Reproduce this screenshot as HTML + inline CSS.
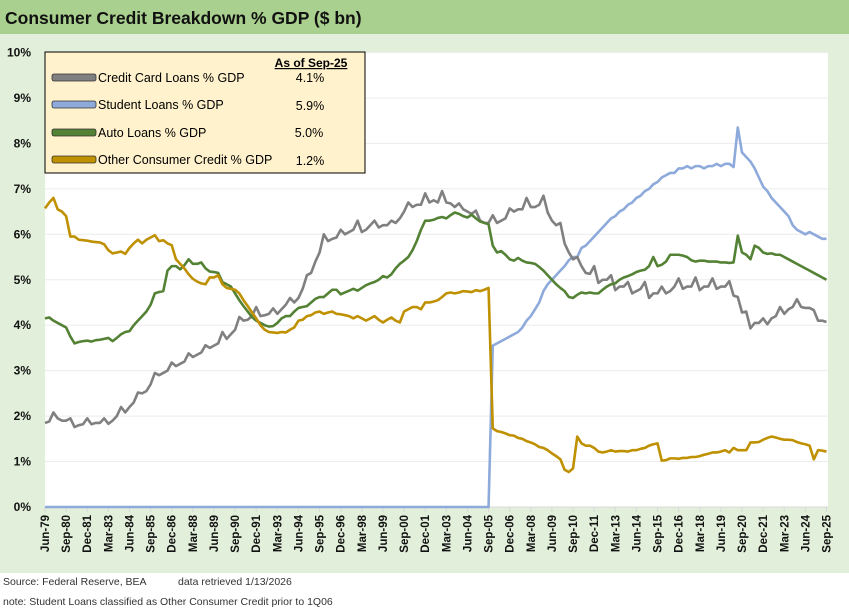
<!DOCTYPE html>
<html><head><meta charset="utf-8"><style>
html,body{margin:0;padding:0;width:849px;height:610px;overflow:hidden;background:#fff;font-family:"Liberation Sans",sans-serif}
</style></head><body>
<svg id="chart" width="849" height="610" xmlns="http://www.w3.org/2000/svg" font-family="Liberation Sans, sans-serif">
<rect x="0" y="0" width="849" height="34" fill="#a9d08e"/>
<text x="5" y="24" font-size="17.5" font-weight="bold" fill="#111">Consumer Credit Breakdown % GDP ($ bn)</text>
<rect x="0" y="34" width="849" height="539" fill="#e2efda"/>
<rect x="45" y="53" width="783" height="454" fill="#fff"/>
<g id="grid"></g>
<g id="yaxis"></g>
<g id="xaxis"></g>
<g id="series"></g>
<g>
<rect x="45" y="52" width="320" height="121" fill="#fff2cc" stroke="#000" stroke-width="1"/>
<text x="311" y="67" font-size="12" font-weight="bold" text-anchor="middle" text-decoration="underline">As of Sep-25</text>
<g><rect x="52" y="74" width="44" height="7" rx="2" fill="#808080" stroke="#333" stroke-width="0.8"/><text x="98" y="82" font-size="12.5">Credit Card Loans % GDP</text><text x="310" y="82" font-size="12.5" text-anchor="middle">4.1%</text></g>
<g><rect x="52" y="101" width="44" height="7" rx="2" fill="#8eaadb" stroke="#333" stroke-width="0.8"/><text x="98" y="109" font-size="12.5">Student Loans % GDP</text><text x="310" y="110" font-size="12.5" text-anchor="middle">5.9%</text></g>
<g><rect x="52" y="129" width="44" height="7" rx="2" fill="#548235" stroke="#333" stroke-width="0.8"/><text x="98" y="137" font-size="12.5">Auto Loans % GDP</text><text x="309" y="137" font-size="12.5" text-anchor="middle">5.0%</text></g>
<g><rect x="52" y="156" width="44" height="7" rx="2" fill="#bf9000" stroke="#333" stroke-width="0.8"/><text x="98" y="164" font-size="12.5">Other Consumer Credit % GDP</text><text x="310" y="165" font-size="12.5" text-anchor="middle">1.2%</text></g>
</g>
<text x="3" y="585" font-size="10.5" fill="#333">Source: Federal Reserve, BEA</text>
<text x="178" y="585" font-size="10.5" fill="#333">data retrieved 1/13/2026</text>
<text x="3" y="605" font-size="10.5" fill="#333">note: Student Loans classified as Other Consumer Credit prior to 1Q06</text>
</svg>
<script>
const yTicks = [0,1,2,3,4,5,6,7,8,9,10];
const xTickLabels = ["Jun-79","Sep-80","Dec-81","Mar-83","Jun-84","Sep-85","Dec-86","Mar-88","Jun-89","Sep-90","Dec-91","Mar-93","Jun-94","Sep-95","Dec-96","Mar-98","Jun-99","Sep-00","Dec-01","Mar-03","Jun-04","Sep-05","Dec-06","Mar-08","Jun-09","Sep-10","Dec-11","Mar-13","Jun-14","Sep-15","Dec-16","Mar-18","Jun-19","Sep-20","Dec-21","Mar-23","Jun-24","Sep-25"];
const creditCard = [1.85,1.88,2.08,
1.95,1.9,1.9,1.95, 1.76,1.8,1.82,1.95, 1.82,1.85,1.85,1.95, 1.83,1.9,2.0,2.2, 2.08,2.2,2.3,2.52,
2.5,2.55,2.7,2.95, 2.9,2.95,3.0,3.18, 3.1,3.15,3.2,3.38, 3.3,3.35,3.4,3.56, 3.5,3.55,3.6,3.85,
3.7,3.8,3.9,4.18, 4.1,4.12,4.2,4.4, 4.2,4.22,4.25,4.37, 4.25,4.35,4.45,4.6, 4.5,4.6,4.8,5.1,
5.15,5.4,5.6,6.0, 5.85,5.9,5.93,6.1, 6.0,6.05,6.1,6.3, 6.05,6.1,6.2,6.3, 6.15,6.2,6.2,6.3,
6.25,6.35,6.5,6.7, 6.6,6.65,6.65,6.9, 6.7,6.75,6.7,6.95, 6.7,6.68,6.6,6.68, 6.55,6.5,6.45,6.52,
6.3,6.25,6.25,6.42, 6.25,6.3,6.35,6.57, 6.5,6.55,6.55,6.8, 6.6,6.6,6.65,6.85, 6.48,6.3,6.2,6.25,
5.8,5.6,5.45,5.5, 5.3,5.15,5.13,5.3, 4.93,5.0,5.0,5.1, 4.77,4.85,4.85,4.95, 4.7,4.75,4.8,4.95,
4.6,4.7,4.7,4.85, 4.7,4.75,4.85,5.03, 4.8,4.85,4.85,5.05, 4.77,4.85,4.85,5.03, 4.8,4.85,4.85,4.97,
4.65,4.62,4.28,4.3, 3.93,4.05,4.05,4.15, 4.02,4.15,4.2,4.4, 4.25,4.35,4.4,4.57, 4.4,4.38,4.38,4.33,
4.1,4.1,4.07];
const studentZeroCount = 106;
const student = [3.55,
3.6,3.65,3.7,3.75, 3.8,3.85,3.95,4.1, 4.2,4.35,4.5,4.75, 4.9,5.0,5.1,5.2, 5.3,5.43,5.5,5.5,
5.7,5.75,5.85,5.95, 6.05,6.15,6.25,6.35, 6.4,6.5,6.55,6.65, 6.7,6.8,6.85,6.95, 7.0,7.1,7.15,7.25,
7.3,7.35,7.35,7.45, 7.45,7.5,7.45,7.5, 7.5,7.45,7.5,7.5, 7.55,7.5,7.55,7.55, 7.48,8.35,7.8,7.7,
7.6,7.45,7.25,7.05, 6.95,6.8,6.7,6.6, 6.5,6.4,6.2,6.1, 6.05,6.0,6.05,6.0, 5.95,5.9,5.9];
const auto = [4.15,4.17,4.1,4.05,4.0,3.95,3.75,3.6,3.63,3.65,3.66,3.64,3.67,3.68,3.7,3.72,3.65,3.72,3.8,3.85,
3.87,4.0,4.1,4.2,4.3,4.45,4.7,4.73,4.75,5.2,5.3,5.3,5.23,5.32,5.45,5.35,5.35,5.38,5.25,5.18,
5.17,5.15,4.95,4.9,4.85,4.7,4.55,4.42,4.3,4.18,4.1,4.05,4.0,3.97,3.98,4.05,4.15,4.2,4.2,4.3,
4.38,4.4,4.42,4.5,4.58,4.62,4.62,4.7,4.78,4.78,4.68,4.72,4.76,4.8,4.76,4.82,4.88,4.92,4.95,5.0,
5.08,5.05,5.12,5.25,5.35,5.42,5.5,5.65,5.85,6.1,6.3,6.3,6.32,6.36,6.38,6.35,6.42,6.48,6.45,6.4,
6.37,6.43,6.35,6.28,6.25,6.22,5.75,5.6,5.63,5.55,5.45,5.42,5.48,5.42,5.38,5.37,5.35,5.28,5.2,5.1,
5.0,4.9,4.82,4.75,4.62,4.6,4.67,4.72,4.7,4.72,4.7,4.7,4.78,4.85,4.9,4.92,5.0,5.05,5.08,5.12,
5.17,5.2,5.22,5.3,5.5,5.3,5.33,5.4,5.55,5.55,5.55,5.53,5.5,5.43,5.4,5.42,5.42,5.4,5.4,5.4,
5.38,5.38,5.37,5.38,5.97,5.6,5.55,5.45,5.75,5.7,5.6,5.57,5.58,5.55,5.55,5.5,5.45,5.4,5.35,5.3,
5.25,5.2,5.15,5.1,5.05,5.0];
const other = [6.57,6.7,6.8,6.55,6.5,6.4,5.95,5.95,5.88,5.87,5.86,5.84,5.83,5.82,5.78,5.65,5.58,5.6,5.62,5.57,
5.7,5.8,5.88,5.8,5.88,5.93,5.98,5.85,5.87,5.8,5.76,5.45,5.35,5.25,5.12,5.02,4.96,4.92,4.9,5.05,
5.05,5.1,4.9,4.82,4.8,4.78,4.7,4.55,4.42,4.28,4.15,4.0,3.9,3.85,3.84,3.83,3.85,3.84,3.9,3.95,
4.1,4.12,4.2,4.22,4.28,4.3,4.25,4.28,4.3,4.25,4.24,4.22,4.2,4.15,4.2,4.15,4.1,4.15,4.2,4.12,
4.06,4.12,4.17,4.1,4.06,4.3,4.35,4.4,4.4,4.35,4.5,4.5,4.52,4.55,4.62,4.7,4.72,4.7,4.72,4.75,
4.74,4.73,4.77,4.75,4.78,4.82,1.73,1.67,1.65,1.62,1.58,1.57,1.52,1.5,1.45,1.42,1.38,1.32,1.3,1.25,
1.18,1.12,1.05,0.82,0.77,0.85,1.55,1.4,1.35,1.35,1.3,1.22,1.2,1.22,1.25,1.22,1.23,1.23,1.22,1.25,
1.25,1.28,1.3,1.35,1.38,1.4,1.02,1.03,1.07,1.07,1.06,1.08,1.08,1.1,1.1,1.12,1.15,1.17,1.2,1.2,
1.22,1.25,1.2,1.3,1.25,1.25,1.25,1.42,1.42,1.43,1.48,1.52,1.55,1.53,1.5,1.48,1.48,1.47,1.43,1.4,
1.38,1.35,1.05,1.25,1.24,1.22];

const NS = "http://www.w3.org/2000/svg";
const X0 = 45, X1 = 826.5, Y0 = 507, Y1 = 52.5, YMAX = 10;
const N = creditCard.length;
const xScale = i => X0 + i * (X1 - X0) / (N - 1);
const yScale = v => Y0 - v / YMAX * (Y0 - Y1);
function mk(tag, attrs, parent) { const e = document.createElementNS(NS, tag); for (const k in attrs) e.setAttribute(k, attrs[k]); parent.appendChild(e); return e; }

const grid = document.getElementById('grid'), yaxis = document.getElementById('yaxis'), xaxis = document.getElementById('xaxis'), series = document.getElementById('series');
yTicks.forEach(t => {
  if (t > 0) {
    const g = mk('line', {x1: 45, x2: 828, y1: yScale(t), y2: yScale(t), stroke: '#ececec', 'stroke-width': 1}, grid);
    
    
  }
  const lb = mk('text', {x: 31, y: yScale(t) + 4, 'font-size': 12, 'font-weight': 'bold', 'text-anchor': 'end', fill: '#111'}, yaxis);
  lb.textContent = t + '%';
  
  
});
const ax = mk('line', {x1: 45, x2: 828, y1: Y0, y2: Y0, stroke: '#d9d9d9', 'stroke-width': 1}, xaxis);


xTickLabels.forEach((l, k) => {
  const x = xScale(k * 5);
  const tk = mk('line', {x1: x, x2: x, y1: Y0, y2: Y0 + 5, stroke: '#d9d9d9', 'stroke-width': 1}, xaxis);
  
  
  const t = mk('text', {x: 0, y: 0, 'font-size': 11.5, 'font-weight': 'bold', 'text-anchor': 'end', fill: '#111', transform: `translate(${x + 4},${Y0 + 8}) rotate(-90)`}, xaxis);
  t.textContent = l;
  
  
});
function drawLine(vals, color, name) {
  const d = vals.map((v, i) => (i ? 'L' : 'M') + xScale(i).toFixed(2) + ',' + yScale(v).toFixed(2)).join('');
  const p = mk('path', {d: d, fill: 'none', stroke: color, 'stroke-width': 2.6, 'stroke-linejoin': 'round'}, series);
  
  
}
const studentFull = new Array(studentZeroCount).fill(0).concat(student);
drawLine(studentFull, '#8eaadb', 'student-loans-line');
drawLine(creditCard, '#808080', 'credit-card-line');
drawLine(auto, '#548235', 'auto-loans-line');
drawLine(other, '#bf9000', 'other-consumer-credit-line');
</script>
</body></html>
